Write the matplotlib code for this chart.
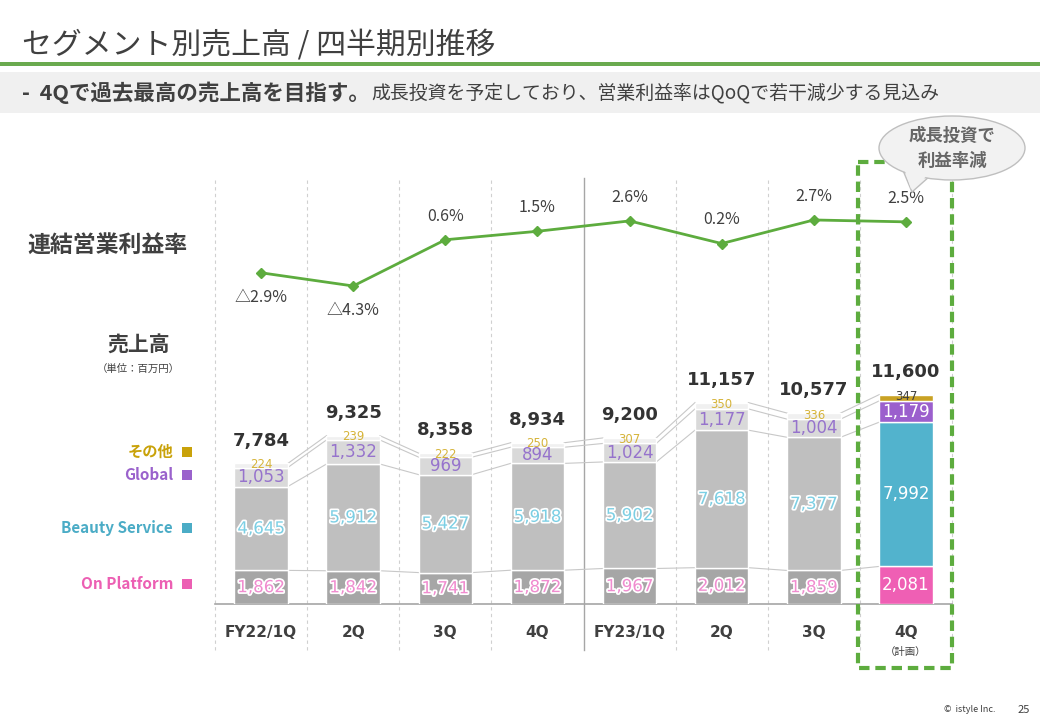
import numpy as np
import matplotlib.pyplot as plt
import matplotlib.patheffects as pe
import matplotlib.transforms as mtrans
from matplotlib.patches import Rectangle, Ellipse, Polygon

plt.rcParams['font.family'] = ['Noto Sans CJK JP', 'DejaVu Sans']

# data (百万円, %)
quarters = ['FY22/1Q', '2Q', '3Q', '4Q', 'FY23/1Q', '2Q', '3Q', '4Q']
on_platform = [1862, 1842, 1741, 1872, 1967, 2012, 1859, 2081]
beauty_service = [4645, 5912, 5427, 5918, 5902, 7618, 7377, 7992]
global_sales = [1053, 1332, 969, 894, 1024, 1177, 1004, 1179]
others = [224, 239, 222, 250, 307, 350, 336, 347]
totals = [7784, 9325, 8358, 8934, 9200, 11157, 10577, 11600]
margin = [-2.9, -4.3, 0.6, 1.5, 2.6, 0.2, 2.7, 2.5]

W, H = 1040, 720
txt = '#404040'
green = '#5dac3e'
num_font = ['DejaVu Sans']

fig = plt.figure(figsize=(W / 100, H / 100), dpi=100)

# background layer in pixel coords
bg = fig.add_axes([0, 0, 1, 1])
bg.set_xlim(0, W)
bg.set_ylim(H, 0)
bg.axis('off')

bg.text(22, 45, 'セグメント別売上高 / 四半期別推移', fontsize=21.5, color=txt, va='center')
bg.add_patch(Rectangle((0, 62), W, 4, color='#6aaa4f', lw=0))
bg.add_patch(Rectangle((0, 72), W, 41, color='#f0f0f0', lw=0))
sub_bold = bg.text(22, 93, '-  4Qで過去最高の売上高を目指す。', fontsize=15.5, weight='bold',
                   color=txt, va='center')
fig.canvas.draw()
x_end = sub_bold.get_window_extent().x1
bg.text(x_end + 1, 93, '成長投資を予定しており、営業利益率はQoQで若干減少する見込み',
        fontsize=13.6, color=txt, va='center')

bg.text(107, 245, '連結営業利益率', fontsize=16.5, weight='bold', color=txt,
        ha='center', va='center')
bg.text(139, 345, '売上高', fontsize=15, weight='bold', color=txt,
        ha='center', va='center')
bg.text(138, 369, '（単位：百万円）', fontsize=7.5, color=txt, ha='center', va='center')

legend_names = ['その他', 'Global', 'Beauty Service', 'On Platform']
legend_cols = ['#c9a20a', '#9a62cc', '#4bacc6', '#ec5fb3']
legend_y = [452, 475, 528, 584]
for name, c, y in zip(legend_names, legend_cols, legend_y):
    bg.text(173, y, name, fontsize=11, weight='bold', color=c, ha='right', va='center')
    bg.add_patch(Rectangle((182, y - 5), 10, 10, color=c, lw=0))

bg.text(970, 709, '©  istyle Inc.', fontsize=6.5, color=txt, ha='center', va='center')
bg.text(1024, 710, '25', fontsize=8, color=txt, ha='center', va='center')

# bar chart
ax = fig.add_axes([215 / W, 1 - 604 / H, 737 / W, 426 / H])
ax.set_xlim(-0.5, 7.5)
ax.set_ylim(0, 23600)
ax.patch.set_visible(False)
for s in ax.spines.values():
    s.set_visible(False)
ax.set_yticks([])

x = np.arange(len(quarters))
for b in np.arange(-0.5, 8):
    if b == 3.5:
        ax.axvline(b, ymin=-0.108, ymax=1, color='#a6a6a6', lw=1, clip_on=False, zorder=0)
    else:
        ax.axvline(b, ymin=-0.108, ymax=1, color='#d0d0d0', lw=0.8, ls=(0, (3, 3)),
                   clip_on=False, zorder=0)
ax.axhline(0, color='#a6a6a6', lw=1.2, clip_on=False, zorder=1)

segs = [on_platform, beauty_service, global_sales, others]
grays = ['#a6a6a6', '#bfbfbf', '#d9d9d9', '#f0f0f0']
vivid = ['#ef5fb4', '#52b3cd', '#9b5fcd', '#c9a224']
bw = 0.58
bottom = np.zeros(len(x))
levels = []
outline = [pe.withStroke(linewidth=2.5, foreground='white')]
for j, vals in enumerate(segs):
    cols = [grays[j]] * 7 + [vivid[j]]
    ax.bar(x, vals, bw, bottom=bottom, color=cols, edgecolor='white', linewidth=1, zorder=2)
    centers = bottom + np.array(vals) / 2
    for i, v in enumerate(vals):
        last = i == len(x) - 1
        if j == 0:
            ax.text(i, centers[i], f'{v:,}', fontsize=12, ha='center', va='center',
                    family=num_font, color='white' if last else '#f08ccf', zorder=4,
                    path_effects=None if last else outline)
        elif j == 1:
            ax.text(i, centers[i], f'{v:,}', fontsize=12, ha='center', va='center',
                    family=num_font, color='white' if last else '#7ccfe4', zorder=4,
                    path_effects=None if last else outline)
        elif j == 2:
            ax.text(i, centers[i], f'{v:,}', fontsize=12, ha='center', va='center',
                    family=num_font, color='white' if last else '#9673cc', zorder=4)
        else:
            ax.text(i, centers[i] + 60, f'{v:,}', fontsize=8.5, ha='center', va='center',
                    family=num_font, color='#404040' if last else '#d6b43a', zorder=4)
    bottom = bottom + np.array(vals)
    levels.append(bottom.copy())

# connector lines between bars
for lev in levels:
    for i in range(len(x) - 1):
        ax.plot([i + bw / 2, i + 1 - bw / 2], [lev[i], lev[i + 1]],
                color='#c8c8c8', lw=0.8, zorder=1)

for i, t in enumerate(totals):
    ax.annotate(f'{t:,}', (i, bottom[i]), xytext=(0, 10), textcoords='offset points',
                ha='center', va='bottom', fontsize=13, weight='bold', color='#333333',
                family=num_font)

ax.set_xticks(x, quarters)
ax.tick_params(axis='x', length=0, pad=15, labelsize=11, labelcolor=txt)
for lbl in ax.get_xticklabels():
    lbl.set_fontweight('bold')
    lbl.set_family(num_font)
trans = mtrans.blended_transform_factory(ax.transData, ax.transAxes)
ax.text(7, -0.113, '（計画）', transform=trans, ha='center', va='center',
        fontsize=7.5, color=txt)

# operating margin line
ax2 = ax.twinx()
ax2.set_ylim(-38.02, 7.15)
ax2.patch.set_visible(False)
for s in ax2.spines.values():
    s.set_visible(False)
ax2.set_yticks([])
ax2.plot(x, margin, color=green, lw=2, marker='D', ms=5, zorder=3)
for i, m in enumerate(margin):
    if m >= 0:
        lab, off = f'{m:.1f}%', 17
    else:
        lab, off = f'△{abs(m):.1f}%', -18
    ax2.annotate(lab, (i, m), xytext=(0, off), textcoords='offset points',
                 ha='center', va='center', fontsize=11.5, color=txt)

# highlight box around plan quarter, with the speech bubble on top
top = fig.add_axes([0, 0, 1, 1])
top.set_xlim(0, W)
top.set_ylim(H, 0)
top.axis('off')
top.add_patch(Rectangle((858, 162), 94, 506, fill=False, ec=green, lw=3,
                        ls=(0, (2.5, 1.4))))
top.add_patch(Polygon([(902, 168), (930, 176), (912, 192)], closed=True,
                      fc='#f2f2f2', ec='#bfbfbf', lw=1, zorder=3))
top.add_patch(Ellipse((952, 148), 146, 64, fc='#f2f2f2', ec='#bfbfbf', lw=1, zorder=3))
top.add_patch(Polygon([(904, 168), (928, 175), (911, 189)], closed=True,
                      fc='#f2f2f2', ec='none', zorder=4))
top.text(952, 136, '成長投資で', fontsize=12.5, weight='bold', color='#666666',
         ha='center', va='center', zorder=5)
top.text(952, 161, '利益率減', fontsize=12.5, weight='bold', color='#666666',
         ha='center', va='center', zorder=5)

fig.savefig('out.png', dpi=100)
